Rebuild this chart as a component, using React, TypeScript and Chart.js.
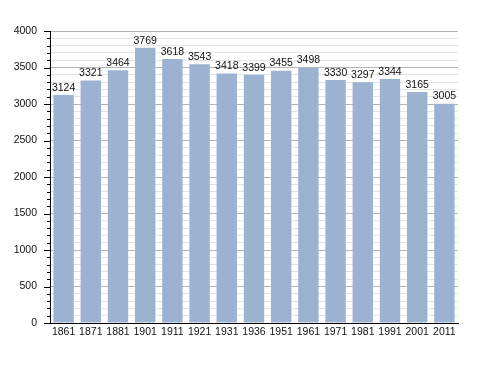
import React, { useEffect, useRef } from "react";
import { Chart, registerables } from "chart.js";

Chart.register(...registerables);

const years = ["1861", "1871", "1881", "1901", "1911", "1921", "1931", "1936", "1951", "1961", "1971", "1981", "1991", "2001", "2011"];
const population = [3124, 3321, 3464, 3769, 3618, 3543, 3418, 3399, 3455, 3498, 3330, 3297, 3344, 3165, 3005];

const FONT = "'Liberation Sans', Arial, sans-serif";

const valueLabels = {
  id: "valueLabels",
  afterDatasetsDraw(chart: any) {
    const ctx = chart.ctx;
    const meta = chart.getDatasetMeta(0);
    ctx.save();
    ctx.font = `10.5px ${FONT}`;
    ctx.fillStyle = "#111";
    ctx.textAlign = "center";
    ctx.textBaseline = "bottom";
    meta.data.forEach((bar: any, i: number) => {
      ctx.fillText(String(chart.data.datasets[0].data[i]), bar.x, bar.y - 2);
    });
    ctx.restore();
  },
};

const axisTicks = {
  id: "axisTicks",
  afterDraw(chart: any) {
    const ctx = chart.ctx;
    const y = chart.scales.y;
    const x0 = chart.chartArea.left;
    ctx.save();
    ctx.strokeStyle = "#000";
    ctx.lineWidth = 1;
    y.ticks.forEach((t: any) => {
      const py = Math.round(y.getPixelForValue(t.value)) + 0.5;
      const len = t.value % 500 === 0 ? 6 : 3;
      ctx.beginPath();
      ctx.moveTo(x0 - len, py);
      ctx.lineTo(x0, py);
      ctx.stroke();
    });
    ctx.restore();
  },
};

export default function App() {
  const ref = useRef<HTMLCanvasElement>(null);
  useEffect(() => {
    const chart = new Chart(ref.current!, {
      type: "bar",
      data: {
        labels: years,
        datasets: [
          {
            data: population,
            backgroundColor: "rgb(155,179,208)",
            borderWidth: 0,
            categoryPercentage: 1,
            barPercentage: 0.75,
          },
        ],
      },
      options: {
        responsive: false,
        animation: false,
        layout: { padding: { left: 0, top: 31, right: 30, bottom: 0 } },
        plugins: { legend: { display: false }, tooltip: { enabled: false } },
        scales: {
          x: {
            grid: { display: false, drawTicks: false },
            border: { display: true, color: "#000", width: 1 },
            ticks: { color: "#111", font: { size: 10.5, family: FONT }, padding: 3, maxRotation: 0, autoSkip: false },
            afterFit: (s: any) => { s.height = 50; },
          },
          y: {
            min: 0,
            max: 4000,
            grid: {
              color: (c: any) => (c.tick && c.tick.value % 500 === 0 ? "#b4b4b4" : "#e2e2e2"),
              drawTicks: false,
            },
            border: { display: true, color: "#000", width: 1 },
            ticks: {
              stepSize: 100,
              autoSkip: false,
              padding: 13,
              color: "#111",
              font: { size: 10.5, family: FONT },
              callback: (v: any) => (Number(v) % 500 === 0 ? String(v) : ""),
            },
            afterFit: (s: any) => { s.width = 50; },
          },
        },
      },
      plugins: [valueLabels, axisTicks],
    });
    return () => chart.destroy();
  }, []);
  return (
    <div style={{ position: "fixed", left: 0, top: 0, width: 488, height: 373, background: "#fff" }}>
      <canvas ref={ref} width={488} height={373} />
    </div>
  );
}
